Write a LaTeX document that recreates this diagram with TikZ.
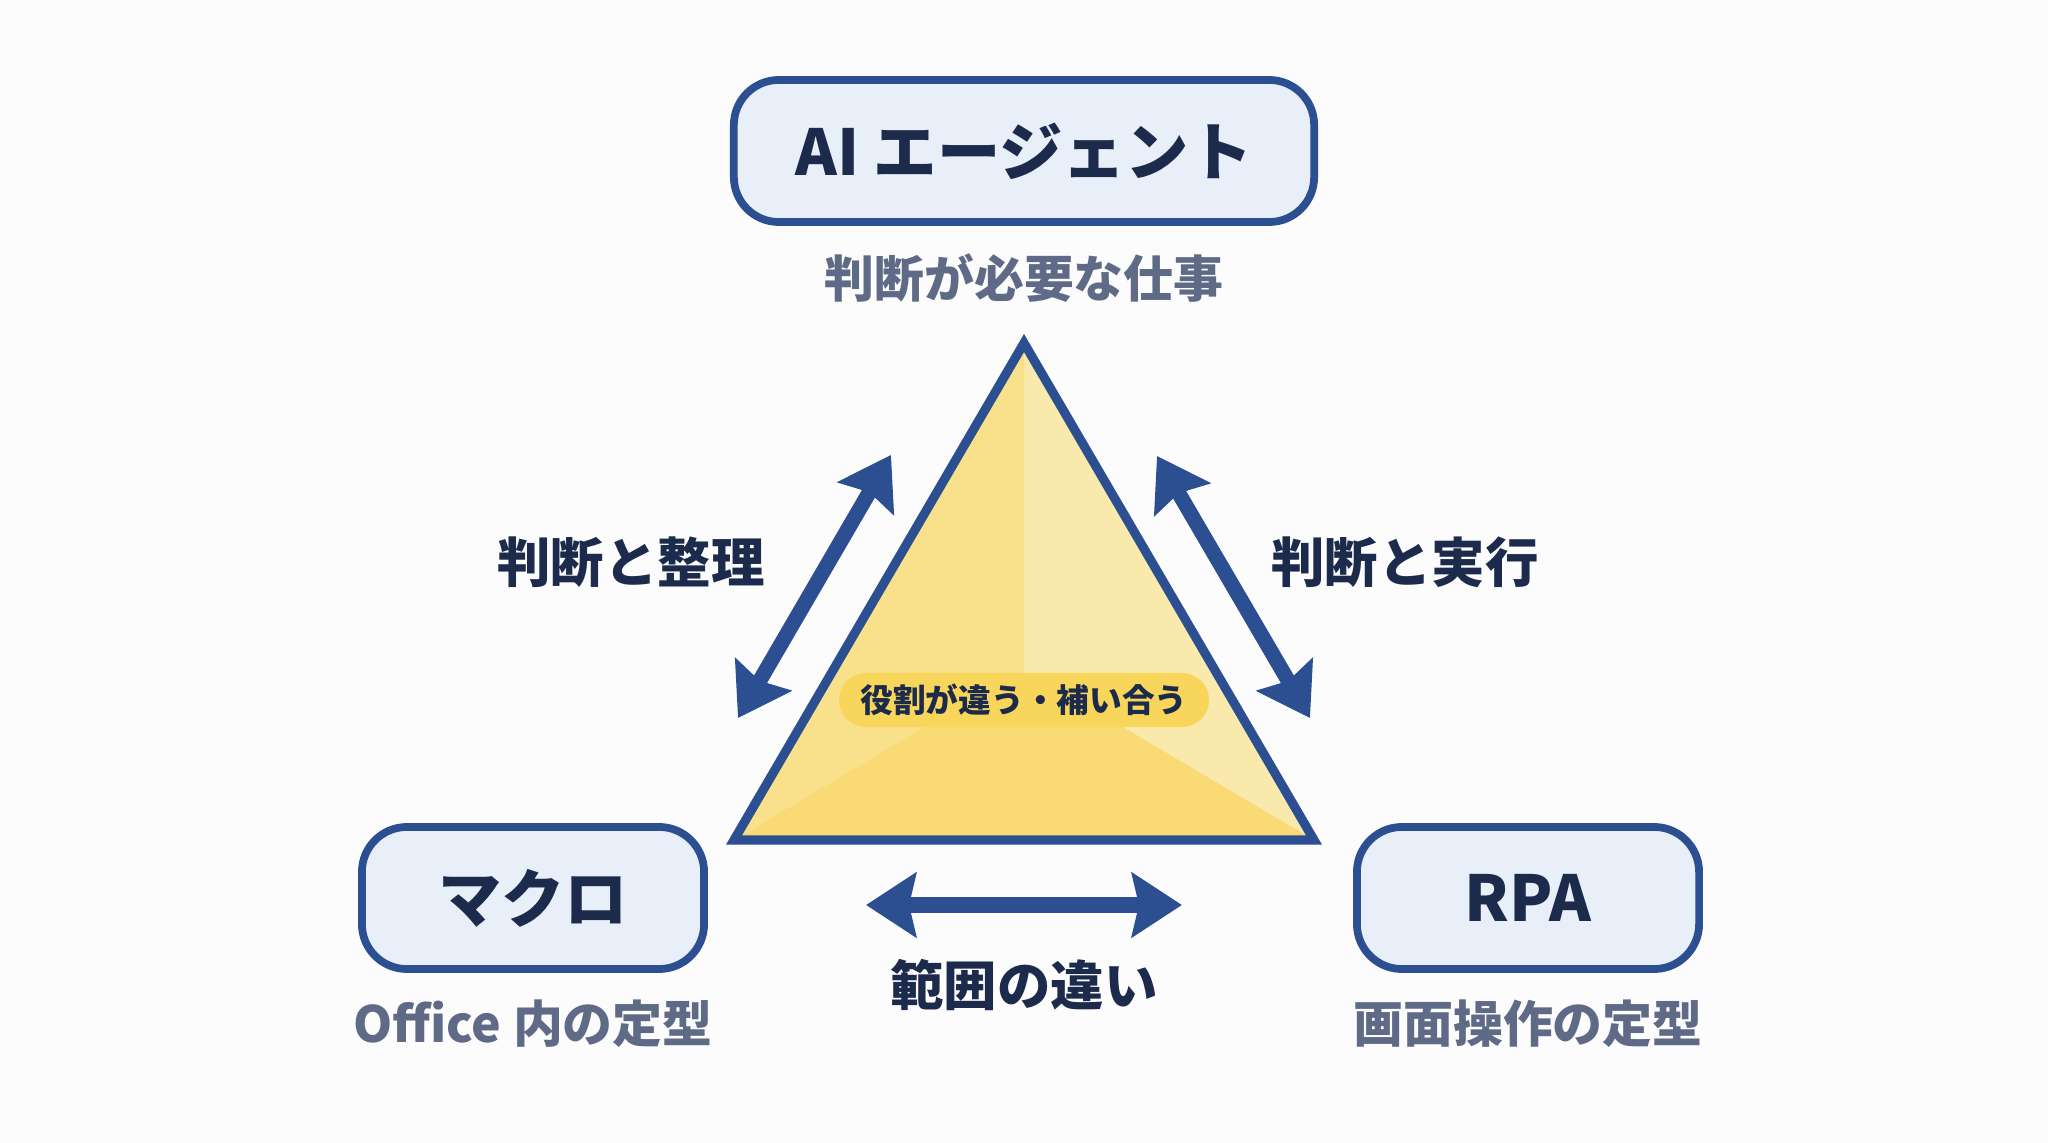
\documentclass[tikz,border=0pt]{standalone}
\usepackage{fontspec}
\setmainfont{Noto Sans CJK JP}
\usepackage{xcolor}
\usetikzlibrary{arrows.meta, positioning, calc, backgrounds}
\definecolor{rlbg}{HTML}{FCFCFD}
\definecolor{rlnavy}{HTML}{2B4F91}
\definecolor{rlink}{HTML}{1C2B4B}
\definecolor{rlgray}{HTML}{5F6B86}
\definecolor{rlfill}{HTML}{E8EFF8}
\definecolor{rlyel}{HTML}{F9E08A}
\definecolor{rlyelL}{HTML}{FAE9AD}
\definecolor{rlyelD}{HTML}{F9DA74}
\definecolor{rlpill}{HTML}{F8D65C}
\tikzset{
  rlbox/.style   = {rectangle, rounded corners=4.5mm, draw=rlnavy,
                    line width=2.2pt, fill=rlfill, text=rlink, align=center,
                    font=\fontsize{18}{20}\selectfont\bfseries,
                    minimum height=14.2mm},
  rlsub/.style   = {inner sep=0pt, text=rlgray,
                    font=\fontsize{14.2}{16}\selectfont\bfseries},
  rllab/.style   = {inner sep=0pt, text=rlink,
                    font=\fontsize{15.2}{17}\selectfont\bfseries},
  rlpillbox/.style = {rectangle, rounded corners=2.7mm, fill=rlpill,
                    text=rlink, minimum width=37mm, minimum height=5.4mm,
                    inner sep=0pt, font=\fontsize{9.3}{11}\selectfont\bfseries},
  rlarrow/.style = {{Stealth[length=5mm, width=6.4mm, inset=0.7mm]}-%
                    {Stealth[length=5mm, width=6.4mm, inset=0.7mm]},
                    line width=1.5mm, draw=rlnavy},
}

\begin{document}
\begin{tikzpicture}[x=0.01cm, y=-0.01cm]
  \fill[rlbg] (0,0) rectangle (2048,1143);

  % triangle
  \coordinate (apex) at (1024,343);
  \coordinate (tl)   at (734,840);
  \coordinate (tr)   at (1314,840);
  \coordinate (midc) at (1024,727);
  \coordinate (midl) at (924,727);
  \coordinate (midr) at (1123,727);
  \fill[rlyel]   (apex) -- (tl) -- (midl) -- (midc) -- cycle;
  \fill[rlyelL]  (apex) -- (midc) -- (midr) -- (tr) -- cycle;
  \fill[rlyelD]  (tl) -- (tr) -- (midr) -- (midl) -- cycle;
  \draw[rlnavy, line width=2.6pt, line join=miter] (apex) -- (tl) -- (tr) -- cycle;
  \node[rlpillbox] (pill) at (1024,700) {役割が違う・補い合う};

  \node[rlbox, minimum width=58mm] (ai) at (1024,151) {AI エージェント};
  \node[rlsub, below=2.7mm of ai] (aisub) {判断が必要な仕事};
  \node[rlbox, minimum width=34.2mm] (macro) at (533,898) {マクロ};
  \node[rlsub, below=2.6mm of macro] (macrosub) {Office 内の定型};
  \node[rlbox, minimum width=34.2mm] (rpa) at (1528,898) {RPA};
  \node[rlsub, below=2.6mm of rpa] (rpasub) {画面操作の定型};

  \node[rllab] (lseiri) at (631,562) {判断と整理};
  \node[rllab] (rjikko) at (1405,562) {判断と実行};
  \node[rllab] (hani)   at (1024,985) {範囲の違い};

  \coordinate (la1) at (738,718);
  \coordinate (la2) at (891,455);
  \coordinate (ra1) at (1157,456);
  \coordinate (ra2) at (1310,718);
  \coordinate (ha1) at (866,905);
  \coordinate (ha2) at (1182,905);

  \draw[rlarrow] (la1) -- (la2);
  \draw[rlarrow] (ra1) -- (ra2);
  \draw[rlarrow] (ha1) -- (ha2);
\end{tikzpicture}
\end{document}
